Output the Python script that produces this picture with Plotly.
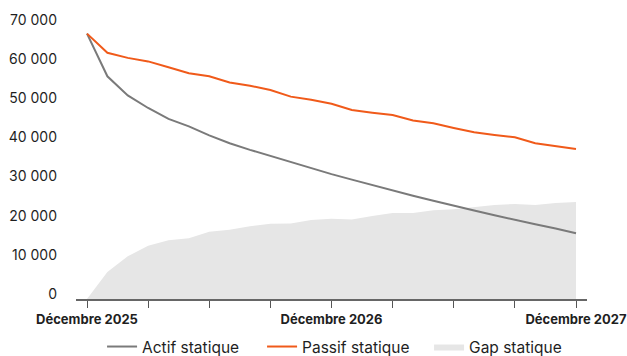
import plotly.graph_objects as go

months = ["Décembre 2025", "Janvier 2026", "Février 2026", "Mars 2026", "Avril 2026",
          "Mai 2026", "Juin 2026", "Juillet 2026", "Août 2026", "Septembre 2026",
          "Octobre 2026", "Novembre 2026", "Décembre 2026", "Janvier 2027", "Février 2027",
          "Mars 2027", "Avril 2027", "Mai 2027", "Juin 2027", "Juillet 2027",
          "Août 2027", "Septembre 2027", "Octobre 2027", "Novembre 2027", "Décembre 2027"]

actif = [67800, 56900, 52000, 48800, 46000, 44100, 41800, 39800, 38100, 36500,
         35000, 33400, 31900, 30500, 29100, 27700, 26400, 25100, 23800, 22600,
         21400, 20200, 19100, 18000, 16800]

passif = [67800, 62900, 61600, 60700, 59200, 57700, 56900, 55300, 54500, 53400,
          51700, 50900, 49900, 48300, 47600, 47000, 45600, 44900, 43700, 42600,
          41900, 41300, 39800, 39000, 38300]

gap = [0, 6900, 10900, 13600, 15000, 15500, 17200, 17700, 18600, 19200,
       19300, 20200, 20500, 20300, 21200, 22000, 22000, 22700, 22900, 23400,
       24000, 24300, 24000, 24500, 24800]

tick_months = months[::3]
tick_labels = ["Décembre 2025", "", "", "", "Décembre 2026", "", "", "", "Décembre 2027"]
y_ticks = [0, 10000, 20000, 30000, 40000, 50000, 60000, 70000]

x = list(range(len(months)))
tickvals = [months.index(m) for m in tick_months]

FONT = "Inter"
TXT = "#1f1f1f"

fig = go.Figure()
fig.add_trace(go.Scatter(x=x, y=gap, mode="lines", fill="tozeroy", fillcolor="#E6E6E6",
                         line=dict(width=0, color="#E6E6E6"), name="Gap statique",
                         legendrank=3, hoverinfo="skip"))
fig.add_trace(go.Scatter(x=x, y=actif, mode="lines", line=dict(color="#7a7a7a", width=2),
                         name="Actif statique", legendrank=1, legendwidth=115))
fig.add_trace(go.Scatter(x=x, y=passif, mode="lines", line=dict(color="#F05A1A", width=2),
                         name="Passif statique", legendrank=2, legendwidth=122))

xr = [-0.54, len(months) - 1 + 0.54]

fig.update_layout(
    width=627, height=356,
    margin=dict(l=76, r=40, t=25, b=57, autoexpand=False),
    paper_bgcolor="white", plot_bgcolor="white",
    font=dict(family=FONT, size=14, color=TXT),
    separators=", ",
    showlegend=True,
    legend=dict(orientation="h", x=0.506, xanchor="center", y=-0.175, yanchor="middle",
                font=dict(family=FONT, size=15.5, color=TXT), itemwidth=30,
                traceorder="normal", bgcolor="rgba(0,0,0,0)"),
    xaxis=dict(range=xr, tickmode="array", tickvals=tickvals,
               ticktext=["<b>" + t + "</b>" if t else "" for t in tick_labels],
               ticks="outside", ticklen=7, tickwidth=1.3, tickcolor="#555",
               showline=True, linecolor="#666", linewidth=2, showgrid=False,
               zeroline=False, automargin=False,
               tickfont=dict(family=FONT, size=13, color=TXT)),
    xaxis2=dict(range=xr, overlaying="x", anchor="y", side="bottom", tickmode="array",
                tickvals=tickvals, ticktext=["" for _ in tickvals], ticks="inside",
                ticklen=8, tickwidth=1.3, tickcolor="#555", showline=False,
                showgrid=False, zeroline=False, showticklabels=False, automargin=False),
    yaxis=dict(range=[0, 70000], tickmode="array", tickvals=y_ticks, tickformat=",d",
               showgrid=False, zeroline=False, showline=False, ticks="",
               ticklabelstandoff=18, ticklabelshift=-5, automargin=False,
               tickfont=dict(family=FONT, size=14, color=TXT)),
)

fig.write_html("out.html")
